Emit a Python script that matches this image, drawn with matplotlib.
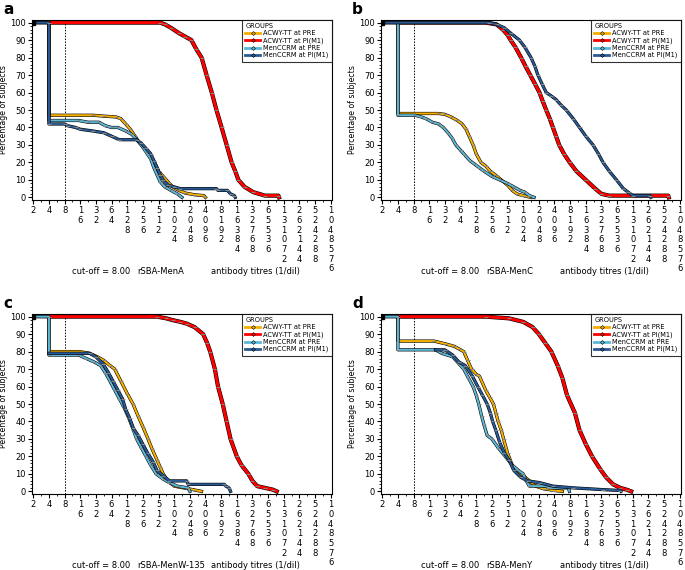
"""Reverse cumulative distribution curves of rSBA titres, 4 panels."""

import matplotlib.pyplot as plt
from matplotlib.lines import Line2D
from matplotlib.ticker import FixedLocator, NullFormatter

# x values are log2(titre), y values are % of subjects
group_names = ["ACWY-TT at PRE", "ACWY-TT at PI(M1)", "MenCCRM at PRE", "MenCCRM at PI(M1)"]
group_colors = ["#F5B000", "#FF0000", "#5BB8D8", "#2A5A94"]
panel_letters = ["a", "b", "c", "d"]
panel_assays = ["rSBA-MenA", "rSBA-MenC", "rSBA-MenW-135", "rSBA-MenY"]

# panel a - MenA
a_acwy_pre_x = [1, 2, 2, 4.8, 5.5, 6.3, 6.6, 6.9, 7.2, 7.5, 7.8, 8.1, 8.4, 8.7, 9.0, 9.3, 9.6, 9.9, 10.3, 10.7, 11.3, 11.9, 12.0]
a_acwy_pre_y = [100, 100, 47, 47, 46.5, 46, 45, 42, 39, 35, 31, 28, 25, 21, 15, 12, 9, 6, 4, 2.5, 1.5, 1, 0]
a_acwy_pi_x = [2, 9.1, 9.4, 9.8, 10.3, 10.7, 11.1, 11.4, 11.75, 12.07, 12.4, 12.7, 13.03, 13.35, 13.67, 13.9, 14.1, 14.5, 15.05, 15.8, 16.66, 16.7]
a_acwy_pi_y = [100, 100, 99, 97, 94, 92, 90, 85, 80, 70, 60, 50, 40, 30, 20, 15, 10, 6, 3, 1, 1, 0]
a_mcc_pre_x = [1, 2, 2, 3.9, 4.5, 5.2, 5.6, 6.0, 6.4, 6.9, 7.3, 7.6, 7.9, 8.2, 8.5, 8.7, 8.9, 9.1, 9.4, 9.8, 10.2, 10.5]
a_mcc_pre_y = [100, 100, 44, 44, 43, 43, 41, 40, 40, 38, 36, 33, 30, 26, 22, 17, 13, 9, 6, 4, 2, 0]
a_mcc_pi_x = [1, 2, 2, 3.0, 3.2, 3.7, 4.0, 4.8, 5.5, 6.0, 6.5, 7.6, 7.9, 8.2, 8.5, 8.7, 8.9, 9.1, 9.3, 9.6, 10.0, 10.4, 12.7, 12.8, 13.4, 13.6, 13.85, 13.9]
a_mcc_pi_y = [100, 100, 42, 42, 41, 40, 39, 38, 37, 35, 33, 33, 31, 28, 25, 21, 17, 13, 10, 7, 6, 5, 5, 4, 4, 2, 1, 0]

# panel b - MenC
b_acwy_pre_x = [1, 2, 2, 4.6, 5.0, 5.4, 5.8, 6.1, 6.35, 6.55, 6.8, 7.0, 7.3, 7.6, 7.9, 8.2, 8.6, 9.0, 9.3, 9.6, 10.0, 10.5]
b_acwy_pre_y = [100, 100, 48, 48, 47.5, 46, 44, 42, 39, 35, 30, 25, 20, 18, 15, 13, 10, 7, 4, 2, 1, 0]
b_acwy_pi_x = [2, 7.6, 8.3, 8.7, 9.0, 9.2, 9.5, 9.87, 10.15, 10.45, 10.75, 11.04, 11.25, 11.47, 11.7, 11.9, 12.1, 12.3, 12.6, 12.97, 13.4, 14.0, 14.6, 15.0, 15.5, 19.27, 19.3]
b_acwy_pi_y = [100, 100, 99, 96, 93, 90, 86, 80, 75, 70, 65, 60, 55, 50, 45, 40, 35, 30, 25, 20, 15, 10, 5, 2, 1, 1, 0]
b_mcc_pre_x = [1, 2, 2, 3.1, 3.5, 3.8, 4.2, 4.6, 4.9, 5.2, 5.45, 5.7, 6.0, 6.3, 6.6, 6.9, 7.2, 7.5, 8.0, 8.5, 9.0, 9.4, 9.8, 10.1, 10.4, 10.7]
b_mcc_pre_y = [100, 100, 47, 47, 46, 45, 43, 42, 40, 37, 34, 30, 27, 24, 21, 19, 17, 15, 12, 10, 8, 6, 4, 3, 1, 0]
b_mcc_pi_x = [1, 7.8, 8.3, 8.8, 9.2, 9.76, 10.1, 10.5, 10.75, 10.94, 11.2, 11.47, 11.8, 12.1, 12.4, 12.75, 13.2, 13.6, 14.0, 14.46, 14.8, 15.1, 15.5, 15.96, 16.4, 16.7, 17.0, 18.1, 18.15]
b_mcc_pi_y = [100, 100, 99, 97, 94, 90, 86, 80, 75, 70, 65, 60, 58, 56, 53, 50, 45, 40, 35, 30, 25, 20, 15, 10, 5, 3, 1, 1, 0]

# panel c - MenW-135
c_acwy_pre_x = [1, 2, 2, 3.95, 4.6, 5.1, 5.5, 5.9, 6.2, 6.6, 7.0, 7.37, 7.7, 8.0, 8.33, 8.6, 8.9, 9.1, 9.3, 9.6, 10.0, 10.6, 11.2, 11.75]
c_acwy_pre_y = [100, 100, 80, 80, 79, 77, 75, 72, 70, 63, 56, 50, 43, 37, 30, 24, 18, 14, 10, 6, 3, 2, 1, 0]
c_acwy_pi_x = [2, 8.9, 9.5, 9.9, 10.4, 10.8, 11.3, 11.85, 12.1, 12.3, 12.6, 12.8, 13.1, 13.35, 13.6, 14.0, 14.3, 14.74, 15.0, 15.3, 15.8, 16.3, 16.55]
c_acwy_pi_y = [100, 100, 99, 98, 97, 96, 94, 90, 85, 80, 70, 60, 50, 40, 30, 20, 15, 10, 6, 3, 2, 1, 0]
c_mcc_pre_x = [1, 2, 2, 3.9, 4.4, 4.9, 5.3, 5.6, 5.9, 6.2, 6.5, 6.8, 7.1, 7.4, 7.6, 7.9, 8.2, 8.5, 8.85, 9.3, 9.7, 10.2, 10.9, 11.0]
c_mcc_pre_y = [100, 100, 78, 78, 76, 74, 72, 68, 63, 58, 53, 48, 42, 35, 30, 25, 20, 15, 10, 7, 5, 3, 2, 0]
c_mcc_pi_x = [2, 4.6, 5.0, 5.45, 5.8, 6.1, 6.4, 6.7, 6.9, 7.15, 7.4, 7.7, 8.0, 8.3, 8.65, 8.9, 9.3, 9.7, 10.8, 10.9, 13.2, 13.3, 13.5, 13.6]
c_mcc_pi_y = [79, 79, 77, 73, 68, 63, 58, 53, 47, 42, 36, 32, 27, 22, 17, 12, 9, 6, 6, 4, 4, 3, 2, 0]

# panel d - MenY
d_acwy_pre_x = [1, 2, 2, 4.3, 5.0, 5.6, 5.9, 6.2, 6.45, 6.7, 7.0, 7.2, 7.6, 7.85, 8.1, 8.25, 8.4, 8.6, 8.75, 9.0, 9.3, 9.6, 10.0, 10.4, 10.8, 11.3, 12.0, 12.5]
d_acwy_pre_y = [100, 100, 86, 86, 84.5, 83, 81.5, 80, 75, 70, 67, 66, 58, 54, 50, 45, 40, 35, 30, 22, 15, 12, 9, 6, 3, 1.5, 0.5, 0]
d_acwy_pi_x = [2, 7.6, 9.1, 10.0, 10.6, 11.0, 11.4, 11.8, 12.2, 12.5, 12.8, 13.3, 13.6, 14.0, 14.4, 14.9, 15.3, 15.75, 16.2, 16.6, 16.9]
d_acwy_pi_y = [100, 100, 99, 97, 94, 90, 85, 80, 72, 65, 55, 45, 35, 27, 20, 13, 8, 4, 2, 1, 0]
d_mcc_pre_x = [1, 2, 2, 4.4, 4.8, 5.5, 5.9, 6.2, 6.5, 6.8, 7.0, 7.16, 7.35, 7.5, 7.7, 8.0, 8.4, 8.86, 9.3, 9.7, 10.0, 10.2, 10.4, 11.5, 11.6, 12.9, 12.95]
d_mcc_pre_y = [100, 100, 81, 81, 79, 77, 73, 70, 65, 60, 55, 50, 43, 38, 32, 30, 25, 20, 15, 12, 10, 6, 3, 3, 2, 2, 0]
d_mcc_pi_x = [4.4, 5.0, 5.5, 5.9, 6.3, 6.75, 7.1, 7.4, 7.7, 7.9, 8.05, 8.25, 8.5, 8.8, 9.1, 9.4, 9.85, 10.3, 11.05, 11.9, 13.2, 15.1, 16.2, 16.25]
d_mcc_pi_y = [81, 81, 78, 74, 72, 66, 60, 55, 50, 45, 40, 35, 28, 22, 18, 12, 8, 6, 5, 3, 2, 1, 0.5, 0]

panels = [
    [(a_acwy_pre_x, a_acwy_pre_y), (a_acwy_pi_x, a_acwy_pi_y), (a_mcc_pre_x, a_mcc_pre_y), (a_mcc_pi_x, a_mcc_pi_y)],
    [(b_acwy_pre_x, b_acwy_pre_y), (b_acwy_pi_x, b_acwy_pi_y), (b_mcc_pre_x, b_mcc_pre_y), (b_mcc_pi_x, b_mcc_pi_y)],
    [(c_acwy_pre_x, c_acwy_pre_y), (c_acwy_pi_x, c_acwy_pi_y), (c_mcc_pre_x, c_mcc_pre_y), (c_mcc_pi_x, c_mcc_pi_y)],
    [(d_acwy_pre_x, d_acwy_pre_y), (d_acwy_pi_x, d_acwy_pi_y), (d_mcc_pre_x, d_mcc_pre_y), (d_mcc_pi_x, d_mcc_pi_y)],
]
# drawing order of the groups per panel (last one on top)
draw_order = [[0, 1, 2, 3], [0, 1, 3, 2], [0, 1, 3, 2], [0, 1, 3, 2]]

titres = [2 ** k for k in range(1, 21)]
tick_labels = ["\n".join(str(t)) for t in titres]
cutoff = 8

plt.rcParams["font.family"] = "DejaVu Sans"
fig = plt.figure(figsize=(6.85, 5.7), dpi=100)

# axes boxes in pixels: left, top
boxes = [(32, 20), (381, 20), (32, 314), (381, 314)]
box_w, box_h = 300, 180
W, H = 685, 570

for i, (left, top) in enumerate(boxes):
    ax = fig.add_axes([left / W, 1 - (top + box_h) / H, box_w / W, box_h / H])
    for g in draw_order[i]:
        ex, ys = panels[i][g]
        xs = [2 ** e for e in ex]
        lw = 2.2 if g == 1 else 1.5
        ax.plot(xs, ys, color="black", lw=lw + 0.8, zorder=2 + g * 0.1)
        ax.plot(xs, ys, color=group_colors[g], lw=lw, zorder=2.05 + g * 0.1)
        ax.plot(xs[1:-1], ys[1:-1], ls="none", marker="_", ms=3, mew=0.7,
                color="#888888", zorder=2.07 + g * 0.1)
    ax.plot([2], [100], marker="s", ms=3, color="black", zorder=3)
    ax.axvline(cutoff, color="black", lw=0.7, ls=(0, (1.5, 1.5)), zorder=1)

    ax.set_xscale("log", base=2)
    ax.set_xlim(2 ** 0.92, 2 ** 20.08)
    ax.set_ylim(-1.5, 101.5)
    ax.set_xticks(titres)
    ax.set_xticklabels(tick_labels, fontsize=6, linespacing=1.1)
    ax.xaxis.set_minor_locator(FixedLocator([2 ** (k + 0.5) for k in range(1, 20)]))
    ax.xaxis.set_minor_formatter(NullFormatter())
    ax.set_yticks(range(0, 101, 10))
    ax.set_yticklabels([str(v) for v in range(0, 101, 10)], fontsize=6)
    ax.yaxis.set_minor_locator(FixedLocator(range(0, 101, 2)))
    ax.tick_params(which="major", length=3, width=0.8, pad=1.5)
    ax.tick_params(which="minor", length=1.5, width=0.6)
    for s in ax.spines.values():
        s.set_linewidth(0.8)
    ax.set_ylabel("Percentage of subjects", fontsize=5.6, labelpad=1.5)

    handles = [Line2D([], [], color=c, lw=2, marker="D", ms=2, mec="black", mew=0.4)
               for c in group_colors]
    leg = ax.legend(handles, group_names, title="GROUPS", loc="upper right",
                    fontsize=4.8, title_fontsize=4.8, frameon=True, fancybox=False,
                    edgecolor="black", borderaxespad=0, handlelength=2.2,
                    handletextpad=0.5, labelspacing=0.15, borderpad=0.5)
    leg.get_frame().set_linewidth(0.8)
    leg._legend_box.align = "left"

    fig.text((left + 40) / W, 1 - (top + 252) / H, "cut-off = 8.00", fontsize=6, va="center")
    fig.text((left + 105) / W, 1 - (top + 252) / H, panel_assays[i], fontsize=6, va="center")
    fig.text((left + 179) / W, 1 - (top + 252) / H, "antibody titres (1/dil)", fontsize=6, va="center")
    fig.text((left - 29) / W, 1 - (top - 11) / H, panel_letters[i], fontsize=11,
             fontweight="bold", va="center")

fig.savefig("out.png", dpi=100)
